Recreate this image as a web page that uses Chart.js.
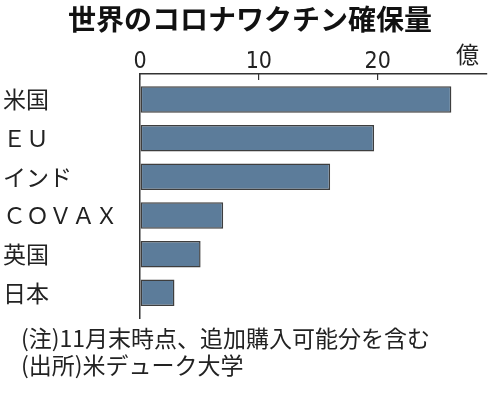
<!DOCTYPE html>
<html>
<head>
<meta charset="utf-8">
<script src="https://cdn.jsdelivr.net/npm/chart.js@4"></script>
<style>
  body { margin: 0; background: #fff; }
  #wrap { position: relative; width: 500px; height: 394px; overflow: hidden; font-family: "Noto Sans CJK JP", sans-serif; color: #222; }
  #wrap canvas { position: absolute; left: 0; top: 0; }
  .txt { position: absolute; white-space: nowrap; }
  #title { left: 0; width: 500px; text-align: center; top: 4px; font-size: 28px; line-height: 28px; font-weight: bold; color: #111; }
  #unit { left: 456px; top: 42px; font-size: 23px; line-height: 23px; }
  .note { left: 21px; font-size: 23px; line-height: 27px; }
</style>
</head>
<body>
<div id="wrap">
  <canvas id="chart" width="500" height="394"></canvas>
  <div class="txt" id="title">世界のコロナワクチン確保量</div>
  <div class="txt" id="unit">億</div>
  <div class="txt note" style="top:324px">(注)11月末時点、追加購入可能分を含む</div>
  <div class="txt note" style="top:351px">(出所)米デューク大学</div>
</div>
<script>
const countries = ["米国", "ＥＵ", "インド", "ＣＯＶＡＸ", "英国", "日本"]
const doses = [26.2, 19.7, 16.0, 7.0, 5.1, 2.9]

Chart.defaults.font.family = '"Noto Sans CJK JP", sans-serif'
Chart.defaults.color = '#222'

new Chart('chart', {
    type: 'bar',
    data: {
        datasets: [
            {
                data: doses.map((v, i) => { return { x: v, y: i } }),
                backgroundColor: '#5c7c9a',
                borderColor: '#3e3e3e',
                borderWidth: 1.5,
                borderSkipped: false,
                barPercentage: 0.685,
                categoryPercentage: 1
            }
        ]
    },
    options: {
        indexAxis: 'y',
        responsive: false,
        animation: false,
        layout: { padding: { left: 3, right: 13, top: 0, bottom: 76 } },
        plugins: { legend: { display: false }, tooltip: { enabled: false } },
        scales: {
            x: {
                type: 'linear',
                position: 'top',
                min: 0,
                max: 29.2,
                afterFit: s => { s.height = 74 },
                ticks: {
                    stepSize: 10,
                    includeBounds: false,
                    padding: 4,
                    font: { family: '"Liberation Sans Narrow", "DejaVu Sans Condensed", sans-serif', size: 23 },
                    color: '#222'
                },
                grid: { drawOnChartArea: false, tickLength: -6, color: '#333', lineWidth: 1.2 },
                border: { display: true, color: '#333', width: 1.5 }
            },
            y: {
                type: 'linear',
                reverse: true,
                offset: false,
                min: -0.66,
                max: 5.65,
                afterFit: s => { s.width = 137 },
                ticks: {
                    stepSize: 1,
                    includeBounds: false,
                    crossAlign: 'far',
                    padding: 0,
                    font: { size: 23 },
                    color: '#222',
                    callback: v => Number.isInteger(v) ? countries[v] : ''
                },
                grid: { display: false, offset: false },
                border: { display: true, color: '#333', width: 1.5 }
            }
        }
    }
})
</script>
</body>
</html>
